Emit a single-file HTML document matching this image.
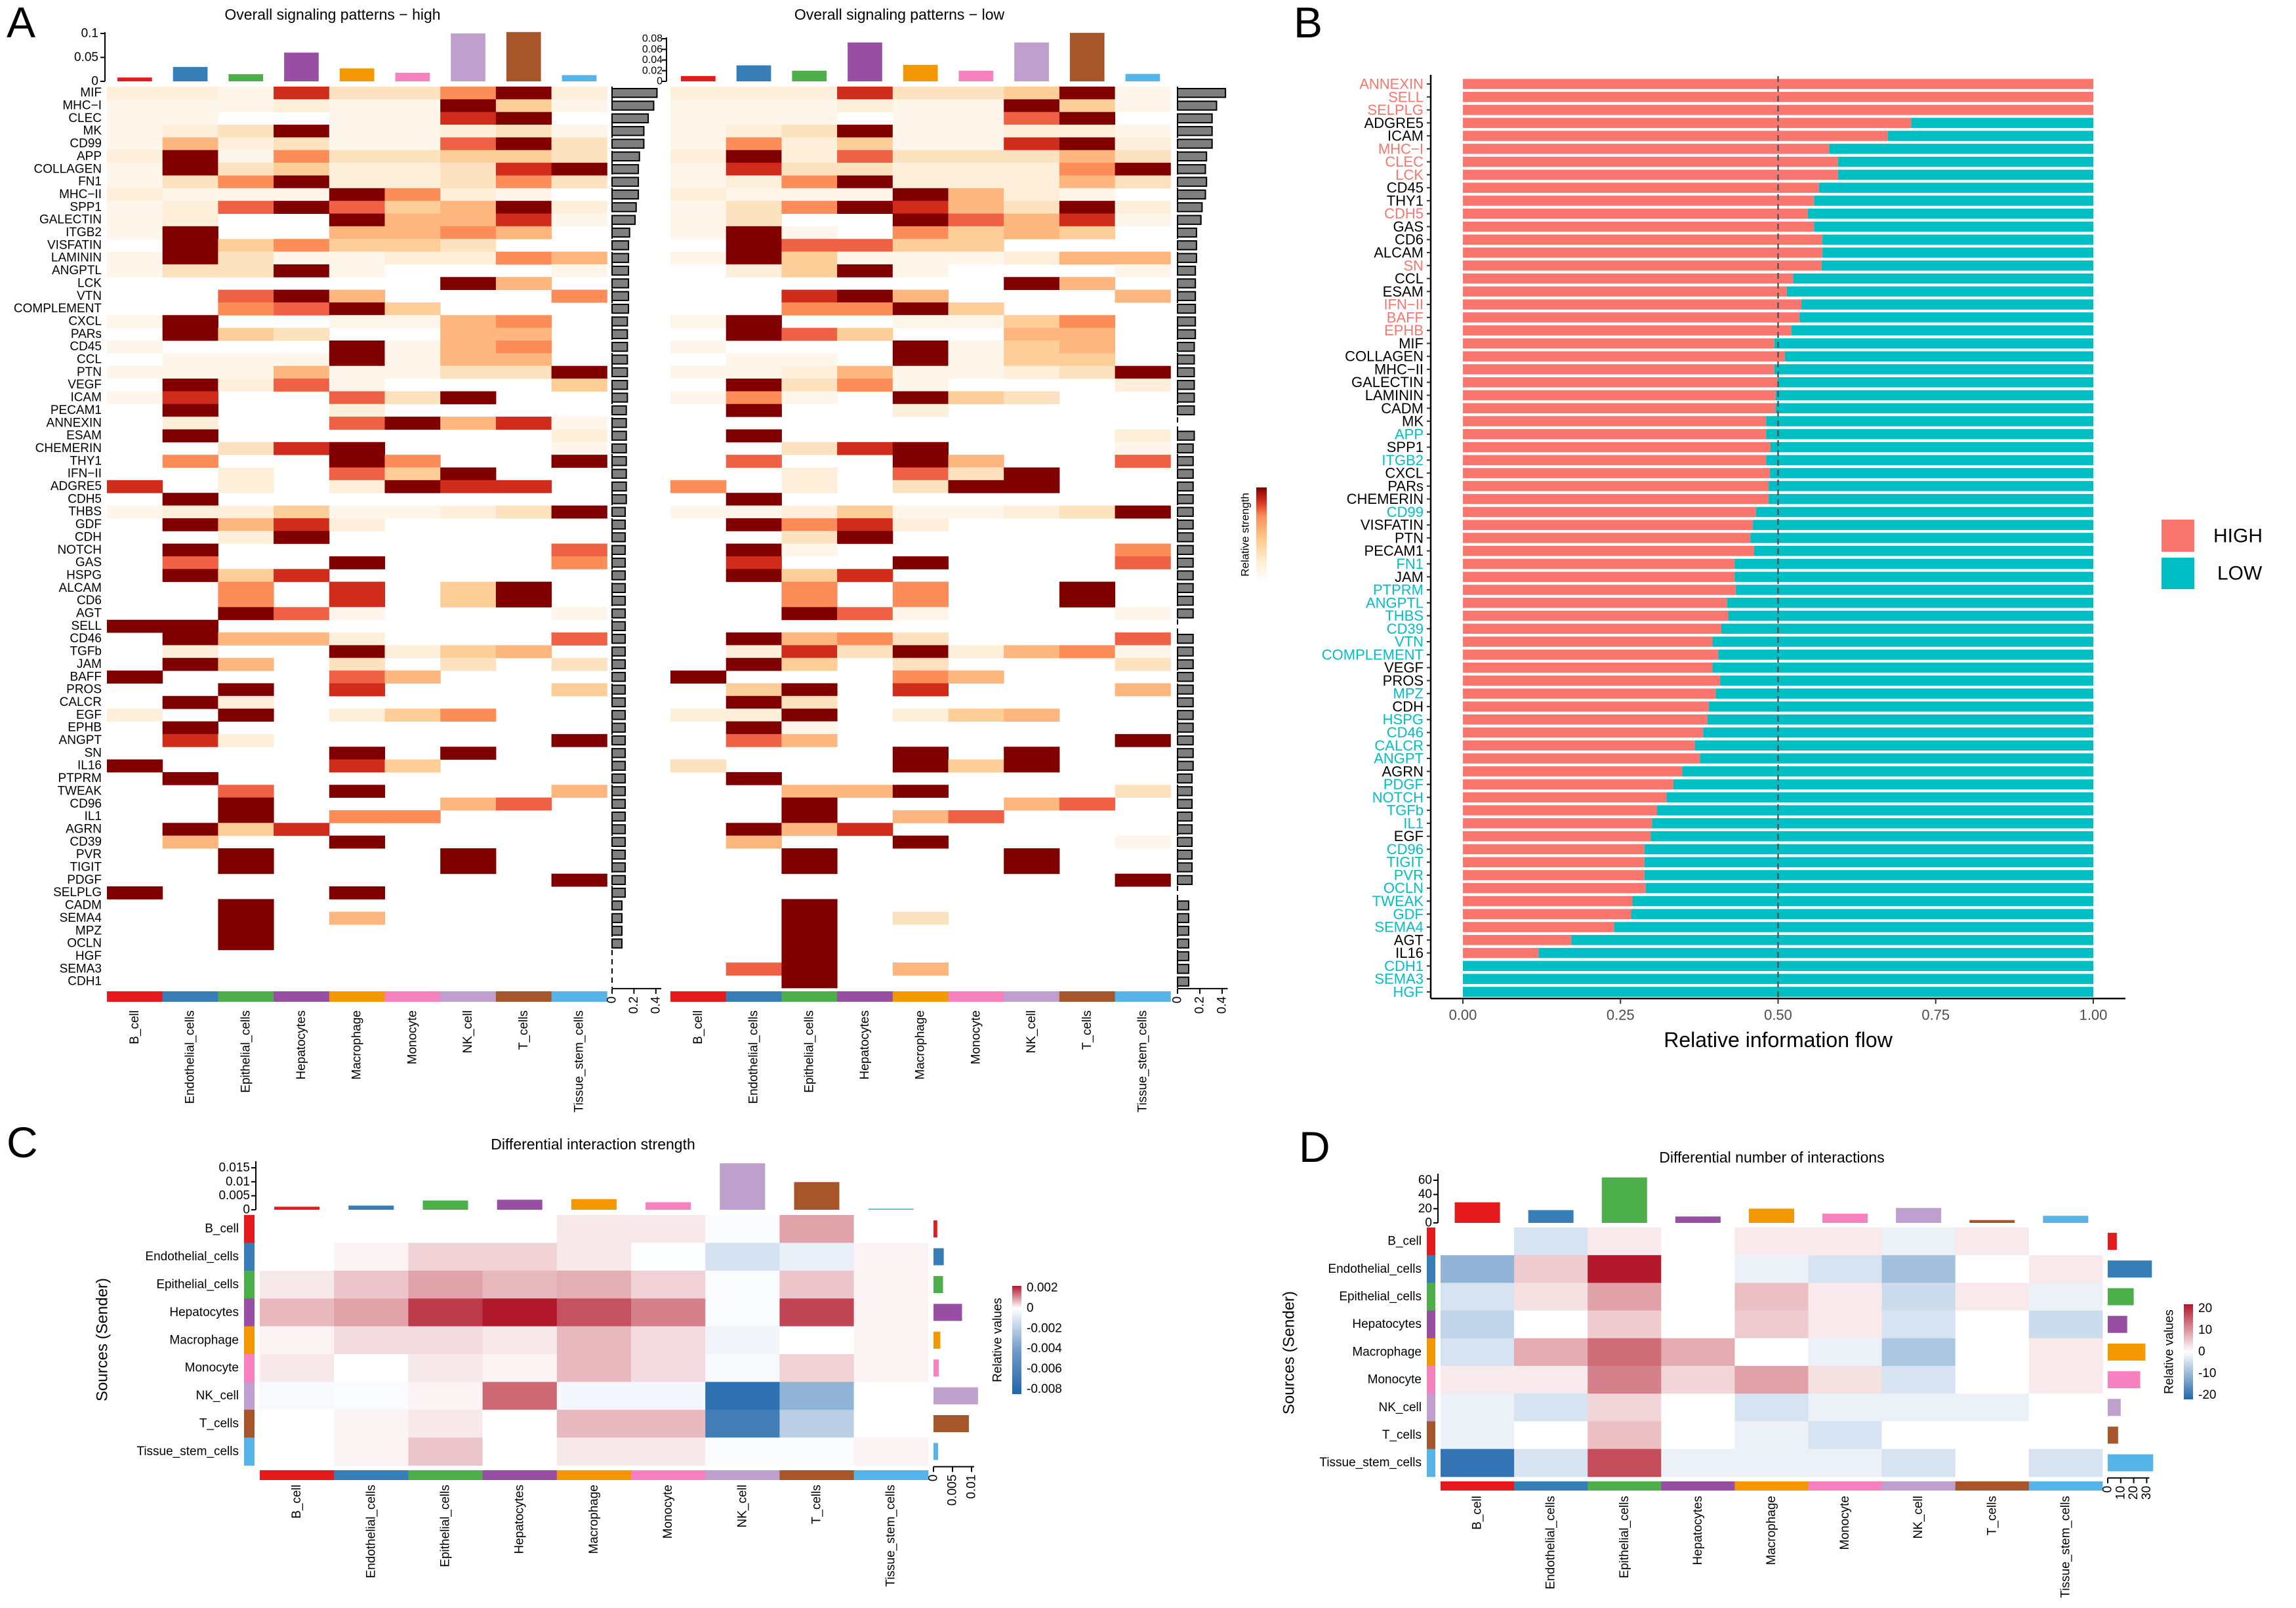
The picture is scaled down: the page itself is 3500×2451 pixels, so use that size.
<!DOCTYPE html>
<html><head><meta charset="utf-8"><title>Cell communication figure</title>
<style>
html,body{margin:0;padding:0;background:#fff;}
svg{display:block;font-family:"Liberation Sans",Arial,sans-serif;}
</style></head>
<body>
<svg id="fig" xmlns="http://www.w3.org/2000/svg" width="3500" height="2451" viewBox="0 0 3500 2451">
<defs>
<linearGradient id="gOrRd" x1="0" y1="1" x2="0" y2="0">
<stop offset="0" stop-color="#FFFFFF"/><stop offset="0.2" stop-color="#FEF0D9"/><stop offset="0.45" stop-color="#FDCC8A"/><stop offset="0.7" stop-color="#FC8D59"/><stop offset="0.85" stop-color="#D7301F"/><stop offset="1" stop-color="#7F0000"/>
</linearGradient>
<linearGradient id="gC" x1="0" y1="0" x2="0" y2="1">
<stop offset="0" stop-color="#B2182B"/><stop offset="0.206" stop-color="#FFFFFF"/><stop offset="0.6" stop-color="#6F9ACB"/><stop offset="1" stop-color="#2166AC"/>
</linearGradient>
<linearGradient id="gD" x1="0" y1="0" x2="0" y2="1">
<stop offset="0" stop-color="#B2182B"/><stop offset="0.5" stop-color="#FFFFFF"/><stop offset="1" stop-color="#2166AC"/>
</linearGradient>
</defs>
<rect x="0" y="0" width="3500" height="2451" fill="#fff"/>
<g id="root"></g>
</svg>
<script>
// ---------- shared data ----------
const cells = ["B_cell","Endothelial_cells","Epithelial_cells","Hepatocytes","Macrophage","Monocyte","NK_cell","T_cells","Tissue_stem_cells"];
const cellColors = ["#E41A1C","#377EB8","#4DAF4A","#984EA3","#F39800","#F781BF","#BE9FCE","#A65628","#56B4E9"];

// ---------- panel A data ----------
const pathwaysA = ["MIF","MHC−I","CLEC","MK","CD99","APP","COLLAGEN","FN1","MHC−II","SPP1","GALECTIN","ITGB2","VISFATIN","LAMININ","ANGPTL","LCK","VTN","COMPLEMENT","CXCL","PARs","CD45","CCL","PTN","VEGF","ICAM","PECAM1","ANNEXIN","ESAM","CHEMERIN","THY1","IFN−II","ADGRE5","CDH5","THBS","GDF","CDH","NOTCH","GAS","HSPG","ALCAM","CD6","AGT","SELL","CD46","TGFb","JAM","BAFF","PROS","CALCR","EGF","EPHB","ANGPT","SN","IL16","PTPRM","TWEAK","CD96","IL1","AGRN","CD39","PVR","TIGIT","PDGF","SELPLG","CADM","SEMA4","MPZ","OCLN","HGF","SEMA3","CDH1"];
const highLevels = ["221833692","111211941","110011890","123911231","152311793","291633443","193422389","136922363","211196210","127974592",
"120095581","190055650","094644300","193112265","133910001","000000950","007950006","006794000","190011560","094300550",
"100091560","011191550","111511339","092710004","180073900","090020000","020079581","090000002","003890001","060096009",
"002074900","802029880","090000000","122411239","095820000","002900000","090000007","070090006","094800000","006080490",
"006080490","009710001","990000000","095520007","020092450","095030303","900075000","009080004","092000000","209024600",
"090000000","082000009","000090900","900084000","090000000","007090005","009000570","009066000","094800000","050090000",
"009000900","009000900","000000009","900090000","009000000","009050000","009000000","009000000","000000000","000000000","000000000"];
const lowLevels = ["222833491","111211941","111011790","123911221","162411892","292733353","183322269","126922253","211195210","136985392",
"130097581","191064540","097744000","194111255","024910001","000000950","008950005","006694000","190011460","097400550",
"100091450","011091440","112511239","093610002","161094300","090020000","000000000","090000002","003890001","070095007",
"002073900","602039900","090000000","112411239","096820000","003900000","091000006","080090007","094800000","006060090",
"006060090","009710001","000000000","095630007","028392561","094030003","900065000","049080005","093000000","229024500",
"091000000","075000009","000090900","300094900","090000000","005590003","009000570","009057000","095800000","050090001",
"009000900","009000900","000000009","000000000","009000000","009030000","009000000","009000000","009000000","079050000","009000000"];
const highTop = [0.008,0.030,0.015,0.060,0.027,0.018,0.100,0.103,0.013];
const lowTop = [0.010,0.030,0.020,0.073,0.031,0.020,0.073,0.091,0.014];
const highOut = [0.41,0.38,0.33,0.29,0.29,0.25,0.24,0.24,0.24,0.22,
0.21,0.16,0.15,0.15,0.15,0.15,0.15,0.15,0.14,0.14,
0.14,0.14,0.14,0.14,0.14,0.13,0.13,0.13,0.13,0.13,
0.13,0.13,0.13,0.12,0.12,0.12,0.12,0.12,0.12,0.12,
0.12,0.12,0.12,0.12,0.12,0.12,0.12,0.12,0.12,0.12,
0.12,0.12,0.12,0.12,0.12,0.12,0.12,0.12,0.12,0.12,
0.12,0.12,0.12,0.12,0.09,0.09,0.09,0.09,0,0,0];
const lowOut = [0.43,0.35,0.31,0.31,0.31,0.26,0.25,0.26,0.25,0.22,
0.21,0.17,0.17,0.17,0.16,0.16,0.16,0.16,0.16,0.16,
0.15,0.15,0.15,0.15,0.15,0.15,0,0.15,0.14,0.14,
0.14,0.14,0.14,0.14,0.14,0.14,0.14,0.14,0.14,0.14,
0.14,0.14,0,0.14,0.14,0.14,0.14,0.14,0.14,0.14,
0.14,0.14,0.14,0.14,0.13,0.13,0.13,0.13,0.13,0.13,
0.13,0.13,0.13,0,0.1,0.1,0.1,0.1,0.1,0.1,0.1];
const highTopTicks = [0,0.05,0.1];
const highTopTickLabels = ["0","0.05","0.1"];
const lowTopTicks = [0,0.02,0.04,0.06,0.08];
const lowTopTickLabels = ["0","0.02","0.04","0.06","0.08"];
const outTicks = [0,0.2,0.4];
const outTickLabels = ["0","0.2","0.4"];

// ---------- panel B data ----------
const pathwaysB = ["ANNEXIN","SELL","SELPLG","ADGRE5","ICAM","MHC−I","CLEC","LCK","CD45","THY1","CDH5","GAS","CD6","ALCAM","SN","CCL","ESAM","IFN−II","BAFF","EPHB","MIF","COLLAGEN","MHC−II","GALECTIN","LAMININ","CADM","MK","APP","SPP1","ITGB2","CXCL","PARs","CHEMERIN","CD99","VISFATIN","PTN","PECAM1","FN1","JAM","PTPRM","ANGPTL","THBS","CD39","VTN","COMPLEMENT","VEGF","PROS","MPZ","CDH","HSPG","CD46","CALCR","ANGPT","AGRN","PDGF","NOTCH","TGFb","IL1","EGF","CD96","TIGIT","PVR","OCLN","TWEAK","GDF","SEMA4","AGT","IL16","CDH1","SEMA3","HGF"];
const highShare = [1,1,1,0.711,0.674,0.581,0.595,0.595,0.565,0.557,0.547,0.557,0.570,0.570,0.569,0.524,0.514,0.537,0.534,0.521,
0.494,0.511,0.494,0.499,0.496,0.496,0.481,0.481,0.488,0.481,0.487,0.485,0.485,0.465,0.460,0.456,0.462,0.431,0.431,0.433,
0.419,0.421,0.410,0.396,0.405,0.396,0.408,0.401,0.390,0.388,0.381,0.368,0.376,0.348,0.334,0.323,0.308,0.300,0.298,0.288,
0.288,0.288,0.290,0.269,0.267,0.240,0.172,0.120,0,0,0];
const sigGroup = ["h","h","h","n","n","h","h","h","n","n","h","n","n","n","h","n","n","h","h","h",
"n","n","n","n","n","n","n","l","n","l","n","n","n","l","n","n","n","l","n","l",
"l","l","l","l","l","n","n","l","n","l","l","l","l","n","l","l","l","l","n","l",
"l","l","l","l","l","l","n","n","l","l","l"];
const xTicksB = [0,0.25,0.5,0.75,1];
const xTickLabelsB = ["0.00","0.25","0.50","0.75","1.00"];

// ---------- panel C data ----------
const diffStrength = [
[0,0,0,0,0.0002,0.0002,-0.0002,0.0008,0],
[0,0.0001,0.0004,0.0004,0.0002,-0.0001,-0.0015,-0.0008,0.0001],
[0.0002,0.0005,0.0008,0.0006,0.0007,0.0004,-0.0002,0.0005,0.0001],
[0.0006,0.0008,0.0017,0.0021,0.0015,0.0011,-0.0002,0.0016,0.0001],
[0.0001,0.0003,0.0003,0.0002,0.0006,0.0003,-0.0005,0,0.0001],
[0.0002,0,0.0002,0.0001,0.0006,0.0003,-0.0003,0.0004,0.0001],
[-0.0003,-0.0002,0.0001,0.0013,-0.0004,-0.0004,-0.0075,-0.004,0],
[0,0.0001,0.0002,0,0.0006,0.0006,-0.0068,-0.0025,0],
[0,0.0001,0.0005,0,0.0002,0.0002,-0.0002,-0.0002,0.0001]];
const cTop = [0.0011,0.0015,0.0033,0.0036,0.0038,0.0027,0.0166,0.0099,0.0004];
const cRight = [0.0010,0.0027,0.0025,0.0075,0.0018,0.0014,0.0117,0.0093,0.0012];
const cTopTicks = [0,0.005,0.01,0.015];
const cTopTickLabels = ["0","0.005","0.01","0.015"];
const cRightTicks = [0,0.005,0.01];
const cRightTickLabels = ["0","0.005","0.01"];
const cLegendTicks = [0.002,0,-0.002,-0.004,-0.006,-0.008];
const cLegendLabels = ["0.002","0","-0.002","-0.004","-0.006","-0.008"];

// ---------- panel D data ----------
const diffCount = [
[0,-4,2,0,2,2,-2,2,0],
[-11,5,22,0,-2,-4,-9,0,2],
[-4,3,9,0,6,2,-5,2,-2],
[-6,0,5,0,5,2,-4,0,-5],
[-4,8,14,8,0,-2,-8,0,2],
[2,2,12,4,9,3,-4,0,2],
[-2,-4,4,0,-4,-2,-2,-2,0],
[-2,0,6,0,-2,-4,0,0,0],
[-20,-4,17,-2,-2,-2,-4,0,-4]];
const dTop = [29,18,64,9,20,13,21,4,10];
const dRight = [7,34,20,15,29,25,10,8,35];
const dTopTicks = [0,20,40,60];
const dTopTickLabels = ["0","20","40","60"];
const dRightTicks = [0,10,20,30];
const dRightTickLabels = ["0","10","20","30"];
const dLegendTicks = [20,10,0,-10,-20];
const dLegendLabels = ["20","10","0","-10","-20"];

// ---------- helpers ----------
const NS = "http://www.w3.org/2000/svg";
const root = document.getElementById("root");
function mk(parent, tag, attrs, txt){
  const el = document.createElementNS(NS, tag);
  for (const k in attrs) el.setAttribute(k, attrs[k]);
  if (txt !== undefined) el.textContent = txt;
  parent.appendChild(el);
  return el;
}
const orRd = ["#FFFFFF","#FEF6EA","#FDEFD9","#FDE2BF","#FDCE98","#FDB67E","#FC8D59","#EE6145","#D02C1C","#800000"];
function lerp(a,b,t){return Math.round(a+(b-a)*t);}
function divColor(v, vpos, vneg){
  let t, c;
  if (v >= 0){ t = Math.min(1, v / vpos); c = [178,24,43]; }
  else { t = Math.min(1, -v / vneg); c = [33,102,172]; }
  return "rgb(" + lerp(255,c[0],t) + "," + lerp(255,c[1],t) + "," + lerp(255,c[2],t) + ")";
}
function label(parent, x, y, s, size, anchor, name, extra){
  const t = mk(parent, "text", Object.assign({x:x, y:y, "font-size":size, "text-anchor":anchor, "dominant-baseline":"central", fill:"#000"}, extra || {}), s);
  
  
  return t;
}
function rotLabel(parent, x, y, s, size, anchor, name){
  const t = mk(parent, "text", {x:0, y:0, "font-size":size, "text-anchor":anchor, "dominant-baseline":"central", transform:"translate("+x+","+y+") rotate(-90)"}, s);
  
  
  return t;
}
function line(parent, x1, y1, x2, y2, name, stroke, w, dash){
  const l = mk(parent, "line", {x1:x1, y1:y1, x2:x2, y2:y2, stroke:stroke || "#000", "stroke-width": w || 2});
  if (dash) l.setAttribute("stroke-dasharray", dash);
  
  
  return l;
}

// panel letters
[["A",10,34],["B",1972,34],["C",10,1741],["D",1980,1748]].forEach(p=>{
  const t = label(root, p[1], p[2], p[0], 66, "start", "panel-label-" + p[0].toLowerCase());
});

// ---------- panel A ----------
function drawPatternHeat(levels, top, out, x0, titleX, titleText, yTopScale, topTicks, topLabels, axisX, tickLabelX, tickFont, outX0, outScale, showRowLabels, key){
  const g = mk(root, "g", {});
  
  
  const cw = 84.7, rh = 19.35, y0 = 132, base = 124;
  const xs = i => x0 + i * cw;
  const ys = r => y0 + r * rh;
  const yTop = v => base - v * yTopScale;
  label(g, titleX, 22, titleText, 23, "middle", "title-" + key);
  // top bars
  line(g, axisX, yTop(topTicks[topTicks.length-1]) - 2, axisX, base, "top-bar-axis-" + key);
  topTicks.forEach((v,i)=>{
    line(g, axisX - 7, yTop(v), axisX, yTop(v), "top-tick-" + key);
    label(g, tickLabelX, yTop(v), topLabels[i], tickFont, "end", "top-tick-label-" + key);
  });
  top.forEach((v,i)=>{
    const r = mk(g, "rect", {x: xs(i) + 16, y: yTop(v), width: cw - 32, height: base - yTop(v), fill: cellColors[i]});
    
    
  });
  // cells
  levels.forEach((row, r)=>{
    for (let c = 0; c < 9; c++){
      const lv = +row[c];
      if (!lv) continue;
      const e = mk(g, "rect", {x: xs(c), y: ys(r), width: cw + 0.5, height: rh + 0.5, fill: orRd[lv]});
      
      
    }
    if (showRowLabels) label(g, x0 - 8, ys(r) + rh/2, pathwaysA[r], 19, "end", "row-label");
  });
  // bottom color strip & column labels
  cells.forEach((c,i)=>{
    const s = mk(g, "rect", {x: xs(i), y: 1511, width: cw + 0.5, height: 16, fill: cellColors[i]});
    
    
    rotLabel(g, xs(i) + cw/2, 1540, c, 19, "end", "column-label");
  });
  // outgoing bars
  const xo = v => outX0 + v * outScale;
  line(g, outX0, y0, outX0, y0 + 71*rh, "out-bar-baseline-" + key, "#000", 2, "8,6");
  out.forEach((v, r)=>{
    if (v <= 0) return;
    const b = mk(g, "rect", {x: outX0, y: ys(r) + 3, width: xo(v) - outX0, height: rh - 6, fill: "#7f7f7f", stroke: "#000", "stroke-width": 2});
    
    
  });
  const ay = y0 + 71*rh + 1;
  line(g, outX0, ay, xo(0.45), ay, "out-axis-" + key);
  outTicks.forEach((v,i)=>{
    line(g, xo(v), ay, xo(v), ay + 8, "out-tick-" + key);
    rotLabel(g, xo(v), ay + 12, outTickLabels[i], 19, "end", "out-tick-label-" + key);
  });
}
drawPatternHeat(highLevels, highTop, highOut, 163, 507, "Overall signaling patterns − high", 730, highTopTicks, highTopTickLabels, 160, 150, 19, 933, 167, true, "high");
drawPatternHeat(lowLevels, lowTop, lowOut, 1022, 1371, "Overall signaling patterns − low", 812, lowTopTicks, lowTopTickLabels, 1016, 1010, 16, 1795, 170, false, "low");
// strength legend
(function(){
  const g = mk(root, "g", {});
  
  
  const r = mk(g, "rect", {x:1915, y:743, width:16, height:145, fill:"url(#gOrRd)"});
  
  
  rotLabel(g, 1898, 815, "Relative strength", 17, "middle", "strength-legend-title");
})();

// ---------- panel B ----------
(function(){
  const g = mk(root, "g", {});
  
  
  const x0 = 2230, x1 = 3191, y0 = 128, pitch = 19.77, bh = 15.5;
  const xs = v => x0 + v * (x1 - x0);
  const ys = i => y0 + i * pitch;
  const colHigh = "#F8766D", colLow = "#00BFC4";
  highShare.forEach((v,i)=>{
    const h = mk(g, "rect", {x: xs(0), y: ys(i) - bh/2, width: xs(v) - xs(0), height: bh, fill: colHigh});
    
    
    const l = mk(g, "rect", {x: xs(v), y: ys(i) - bh/2, width: xs(1) - xs(v), height: bh, fill: colLow});
    
    
    line(g, 2175, ys(i), 2181, ys(i), "y-tick", "#333", 2);
    const col = sigGroup[i] === "h" ? colHigh : (sigGroup[i] === "l" ? colLow : "#000");
    label(g, 2170, ys(i), pathwaysB[i], 22, "end", "y-tick-label", {fill: col});
  });
  line(g, xs(0.5), y0 - 12, xs(0.5), 1522, "midline-0.5", "#555", 2.5, "9,6");
  line(g, 2181, y0 - 14, 2181, 1522, "y-axis-line", "#000", 2.5);
  line(g, 2181, 1522, 3240, 1522, "x-axis-line", "#000", 2.5);
  xTicksB.forEach((v,i)=>{
    line(g, xs(v), 1522, xs(v), 1530, "x-tick", "#333", 2);
    label(g, xs(v), 1547, xTickLabelsB[i], 22, "middle", "x-tick-label", {fill:"#4d4d4d"});
  });
  label(g, xs(0.5), 1585, "Relative information flow", 32, "middle", "x-axis-title");
  const a = mk(g, "rect", {x:3295, y:792, width:50, height:49, fill:colHigh});
  
  
  const b = mk(g, "rect", {x:3295, y:850, width:50, height:48, fill:colLow});
  
  
  label(g, 3374, 817, "HIGH", 30, "start", "legend-entry-high");
  label(g, 3380, 874, "LOW", 30, "start", "legend-entry-low");
})();

// ---------- panels C & D ----------
function drawDiff(o){
  const g = mk(root, "g", {});
  
  
  const xs = i => o.x0 + i * o.cw;
  const ys = r => o.y0 + r * o.rh;
  const yTop = v => o.base - v * o.topScale;
  label(g, o.titleX, o.titleY, o.title, 23, "middle", o.key + "-title");
  // top bars
  line(g, o.axisX, yTop(o.topTicks[o.topTicks.length-1]) - 10, o.axisX, o.base, o.key + "-top-axis");
  o.topTicks.forEach((v,i)=>{
    line(g, o.axisX - 7, yTop(v), o.axisX, yTop(v), o.key + "-top-tick");
    label(g, o.axisX - 9, yTop(v), o.topTickLabels[i], 19, "end", o.key + "-top-tick-label");
  });
  o.top.forEach((v,i)=>{
    const r = mk(g, "rect", {x: xs(i) + (o.cw-69)/2, y: yTop(v), width: 69, height: o.base - yTop(v), fill: cellColors[i]});
    
    
  });
  // cells
  o.mat.forEach((row,r)=>{
    row.forEach((v,c)=>{
      const e = mk(g, "rect", {x: xs(c), y: ys(r), width: o.cw + 0.5, height: o.rh + 0.5, fill: divColor(v, o.vpos, o.vneg)});
      
      
    });
    const s = mk(g, "rect", {x: o.stripX, y: ys(r), width: o.stripW, height: o.rh + 0.5, fill: cellColors[r]});
    
    
    label(g, o.stripX - 8, ys(r) + o.rh/2, cells[r], 19, "end", o.key + "-row-label");
  });
  // bottom strip & column labels
  cells.forEach((c,i)=>{
    const s = mk(g, "rect", {x: xs(i), y: o.botY, width: o.cw + 0.5, height: o.botH, fill: cellColors[i]});
    
    
    rotLabel(g, xs(i) + o.cw/2, o.colLabY, c, 19, "end", o.key + "-column-label");
  });
  // right bars
  const xr = v => o.rx0 + v * o.rScale;
  o.right.forEach((v,r)=>{
    const b = mk(g, "rect", {x: o.rx0, y: ys(r) + (o.rh-26)/2, width: xr(v) - o.rx0, height: 26, fill: cellColors[r]});
    
    
  });
  const ay = o.y0 + 9*o.rh + 2;
  line(g, o.rx0, ay, xr(o.rightTicks[o.rightTicks.length-1]) + 4, ay, o.key + "-right-axis");
  o.rightTicks.forEach((v,i)=>{
    line(g, xr(v), ay, xr(v), ay + 8, o.key + "-right-tick");
    rotLabel(g, xr(v), ay + 12, o.rightTickLabels[i], 19, "end", o.key + "-right-tick-label");
  });
  rotLabel(g, o.yTitleX, o.yTitleY, "Sources (Sender)", 24, "middle", o.key + "-y-axis-title");
  // legend
  const lg = mk(g, "rect", {x: o.legX, y: o.legY0, width: 14, height: o.legY1 - o.legY0, fill: o.grad});
  
  
  const yl = v => o.legY0 + (o.legMax - v) / (o.legMax - o.legMin) * (o.legY1 - o.legY0);
  o.legTicks.forEach((v,i)=>{
    label(g, o.legX + 22, yl(v), o.legLabels[i], 19, "start", o.key + "-colorbar-label");
  });
  rotLabel(g, o.legX - 22, (o.legY0 + o.legY1)/2, "Relative values", 19, "middle", o.key + "-legend-title");
}
drawDiff({key:"strength", mat: diffStrength, top: cTop, right: cRight, vpos:0.002, vneg:0.008,
  x0:396, y0:1852, cw:113.2, rh:42.4, base:1844, topScale:4267, axisX:390,
  topTicks:cTopTicks, topTickLabels:cTopTickLabels, title:"Differential interaction strength", titleX:904, titleY:1744,
  stripX:372, stripW:16, botY:2241, botH:15, colLabY:2263, rx0:1423, rScale:5800,
  rightTicks:cRightTicks, rightTickLabels:cRightTickLabels, yTitleX:156, yTitleY:2042,
  legX:1543, legY0:1960, legY1:2125, legMax:0.0022, legMin:-0.0085, grad:"url(#gC)", legTicks:cLegendTicks, legLabels:cLegendLabels});
drawDiff({key:"count", mat: diffCount, top: dTop, right: dRight, vpos:22, vneg:22,
  x0:2196, y0:1871, cw:112.1, rh:42.2, base:1864, topScale:1.083, axisX:2192,
  topTicks:dTopTicks, topTickLabels:dTopTickLabels, title:"Differential number of interactions", titleX:2701, titleY:1764,
  stripX:2175, stripW:13, botY:2258, botH:14, colLabY:2280, rx0:3213, rScale:1.98,
  rightTicks:dRightTicks, rightTickLabels:dRightTickLabels, yTitleX:1965, yTitleY:2062,
  legX:3329, legY0:1988, legY1:2133, legMax:22, legMin:-22, grad:"url(#gD)", legTicks:dLegendTicks, legLabels:dLegendLabels});
</script>
</body></html>
